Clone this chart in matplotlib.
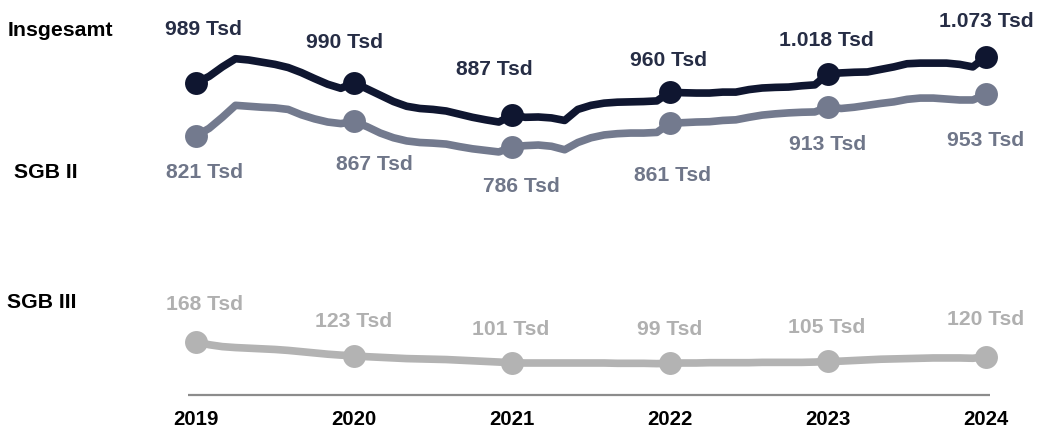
import numpy as np
import matplotlib
matplotlib.use("Agg")
import matplotlib.pyplot as plt

plt.rcParams['font.family'] = ['Liberation Sans', 'DejaVu Sans']

years = [2019, 2020, 2021, 2022, 2023, 2024]

# monthly values (Tsd), Jan 2019 .. Jan 2024
insgesamt = [989, 1010, 1040, 1066, 1062, 1055, 1048, 1038, 1022, 1003, 985, 972,
             990, 970, 950, 930, 915, 908, 905, 900, 890, 880, 872, 865,
             887, 880, 881, 878, 870, 905, 918, 925, 928, 929, 930, 932,
             960, 958, 957, 957, 960, 960, 968, 973, 975, 976, 980, 983,
             1018, 1021, 1023, 1024, 1032, 1040, 1050, 1052, 1052, 1052, 1048, 1040,
             1073]
sgb2 = [821, 845, 880, 918, 915, 912, 910, 905, 888, 875, 865, 860,
        867, 850, 830, 815, 805, 800, 798, 795, 787, 780, 775, 770,
        786, 790, 792, 788, 777, 800, 815, 824, 828, 830, 830, 832,
        861, 863, 865, 866, 870, 872, 880, 887, 891, 894, 896, 897,
        913, 908, 912, 918, 924, 929, 937, 941, 941, 938, 935, 935,
        953]
sgb3 = [168, 158, 152, 149, 147, 145, 143, 140, 136, 132, 128, 125,
        123, 120, 118, 116, 114, 113, 112, 111, 109, 107, 105, 103,
        101, 100, 100, 100, 100, 100, 100, 100, 99, 99, 99, 98,
        99, 100, 100, 101, 101, 101, 101, 102, 102, 102, 102, 103,
        105, 106, 108, 110, 112, 113, 114, 115, 116, 116, 116, 115,
        120]

labels_ins = ["989 Tsd", "990 Tsd", "887 Tsd", "960 Tsd", "1.018 Tsd", "1.073 Tsd"]
labels_s2 = ["821 Tsd", "867 Tsd", "786 Tsd", "861 Tsd", "913 Tsd", "953 Tsd"]
labels_s3 = ["168 Tsd", "123 Tsd", "101 Tsd", "99 Tsd", "105 Tsd", "120 Tsd"]

# label offsets in pixels (dx, dy up positive)
off_ins = [(7, 53), (-9, 40), (-18, 46), (-2, 32), (-2, 33), (0, 35)]
off_s2 = [(8, -37), (20, -43), (9, -40), (2, -52), (0, -38), (0, -46)]
off_s3 = [(8, 37), (0, 34), (-1, 33), (0, 34), (-1, 34), (0, 37)]

c_ins, c_ins_t = "#0f1630", "#262d45"
c_s2, c_s2_t = "#737a8e", "#6f7689"
c_s3, c_s3_t = "#b3b3b3", "#b0b0b0"

W, H = 1037, 429
fig = plt.figure(figsize=(W / 100, H / 100), dpi=100)
ax = fig.add_axes([150 / W, 0, 880 / W, 1])

months = np.arange(len(insgesamt))
yearpos = months[::12]
px_per_month = 790 / 60
ax.set_xlim(-(196 - 150) / px_per_month, 60 + (1030 - 986) / px_per_month)
ax.set_ylim(-(H - 394.5) / 0.315, 394.5 / 0.315)
ax.axis("off")

ax.plot([-0.6, 60.3], [0, 0], color="#8c8c8c", lw=1.6, solid_capstyle="butt")

for vals, col, colt, labs, offs in [(sgb3, c_s3, c_s3_t, labels_s3, off_s3),
                                    (sgb2, c_s2, c_s2_t, labels_s2, off_s2),
                                    (insgesamt, c_ins, c_ins_t, labels_ins, off_ins)]:
    vals = np.array(vals)
    ax.plot(months, vals, color=col, lw=5.5, solid_joinstyle="round",
            solid_capstyle="round")
    ax.plot(yearpos, vals[::12], "o", color=col, ms=16.5, mew=0)
    for x, v, t, (dx, dy) in zip(yearpos, vals[::12], labs, offs):
        ax.annotate(t, (x, v), xytext=(dx, dy), textcoords="offset pixels",
                    ha="center", va="center", fontsize=15.2,
                    fontweight="bold", color=colt)

for x, y in zip(yearpos, years):
    ax.annotate(str(y), (x, 0), xytext=(0, -25), textcoords="offset pixels",
                ha="center", va="center", fontsize=14.7, fontweight="bold",
                color="black")

fig.text(8 / W, 1 - 30 / H, "Insgesamt", ha="left", va="center",
         fontsize=15.3, fontweight="bold")
fig.text(14 / W, 1 - 172 / H, "SGB II", ha="left", va="center",
         fontsize=15.3, fontweight="bold")
fig.text(7 / W, 1 - 303 / H, "SGB III", ha="left", va="center",
         fontsize=15.3, fontweight="bold")

fig.savefig("out.png", dpi=100)
